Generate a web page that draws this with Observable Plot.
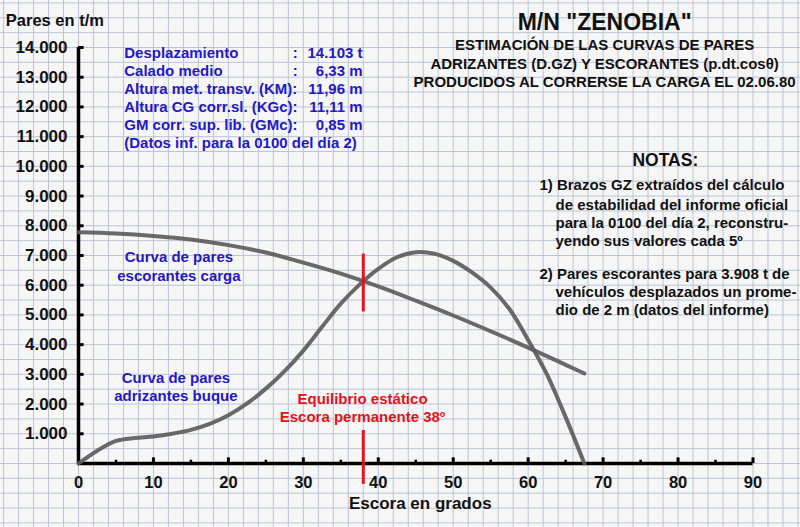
<!DOCTYPE html>
<html>
<head>
<meta charset="utf-8">
<script src="https://cdn.jsdelivr.net/npm/d3@7"></script>
<script src="https://cdn.jsdelivr.net/npm/@observablehq/plot@0.6"></script>
<style>
  html, body { margin: 0; padding: 0; background: #f6f6f6; }
  #chart { width: 800px; height: 527px; }
</style>
</head>
<body>
<div id="chart"></div>
<script>
// ---- Data ----
// Curva de pares adrizantes buque (D.GZ), t·m vs escora (grados)
const adrizAngles = [0, 2.5, 5, 7.5, 10, 12.5, 15, 17.5, 20, 22.5, 25, 27.5, 30, 32.5, 35, 37.5, 40, 42.5, 45, 47.5, 50, 52.5, 55, 57.5, 60, 62.5, 65, 67.5];
const adrizValues = [0, 430, 760, 860, 910, 1000, 1130, 1330, 1620, 2020, 2520, 3110, 3800, 4600, 5380, 6020, 6550, 6940, 7110, 7060, 6820, 6430, 5920, 5200, 4160, 3000, 1560, 0];

// Curva de pares escorantes carga (p.dt.cosθ)
const escorAngles = [0, 5, 10, 15, 20, 25, 30, 35, 40, 45, 50, 55, 60, 65, 67.5];
const escorValues = [7780, 7740, 7660, 7540, 7350, 7100, 6760, 6390, 5960, 5480, 4980, 4450, 3900, 3320, 3030];

// Equilibrio estático
const eqAngle = 38;
const eqUpper = [5100, 7050];
const eqLower = [-700, 1110];

// Axis ticks
const xMajorTicks = [0, 10, 20, 30, 40, 50, 60, 70, 80, 90];
const xMinorTicks = [5, 15, 25, 35, 45, 55, 65, 75, 85];
const yTicks = [1000, 2000, 3000, 4000, 5000, 6000, 7000, 8000, 9000, 10000, 11000, 12000, 13000, 14000];

// Grid paper (every 2º and every 500 t·m)
const gridX = d3.range(-10, 98, 2);
const gridY = d3.range(-2000, 16000, 500);

// Texts
const titleLines = ['M/N "ZENOBIA"', "ESTIMACIÓN DE LAS CURVAS DE PARES", "ADRIZANTES (D.GZ) Y ESCORANTES (p.dt.cosθ)", "PRODUCIDOS AL CORRERSE LA CARGA EL 02.06.80"];
const titleY = [14842, 14068, 13428, 12822];

const infoLabels = ["Desplazamiento", "Calado medio", "Altura met. transv. (KM):", "Altura CG corr.sl. (KGc):", "GM corr. sup. lib. (GMc):", "(Datos inf. para la 0100 del día 2)"];
const infoColons = [":", ":", "", "", "", ""];
const infoValues = ["14.103 t", "6,33 m", "11,96 m", "11,11 m", "0,85 m", ""];
const infoY = [13800, 13200, 12590, 11980, 11380, 10770];

const notesHead = "NOTAS:";
const notesLines = ["1) Brazos GZ extraídos del cálculo", "de estabilidad del informe oficial", "para la 0100 del día 2, reconstru-", "yendo sus valores cada 5º", "2) Pares escorantes para 3.908 t de", "vehículos desplazados un prome-", "dio de 2 m (datos del informe)"];
const notesIndent = [false, true, true, true, false, true, true];
const notesY = [9356, 8683, 8089, 7483, 6384, 5766, 5149];

const labelEscor = ["Curva de pares", "escorantes carga"];
const labelEscorY = [6933, 6293];
const labelAdriz = ["Curva de pares", "adrizantes buque"];
const labelAdrizY = [2861, 2255];
const labelEq = ["Equilibrio estático", "Escora permanente 38º"];
const labelEqY = [2154, 1548];

const yAxisTitle = "Pares en t/m";
const xAxisTitle = "Escora en grados";

// ---- Build ----
const adriz = adrizAngles.map((a, i) => ({a, v: adrizValues[i]}));
const escor = escorAngles.map((a, i) => ({a, v: escorValues[i]}));
const eqSegs = [{x: eqAngle, y1: eqUpper[0], y2: eqUpper[1]}, {x: eqAngle, y1: eqLower[0], y2: eqLower[1]}];
const fmt = d3.formatLocale({decimal: ",", thousands: ".", grouping: [3], currency: ["", ""]}).format(",d");

const BLUE = "#2418c4";
const RED = "#e3121c";
const GRID = "#bcc4d4";
const CURVE = "#5c5c5c";

const rows = (arr, ys) => arr.map((t, i) => ({t, y: ys[i]}));

const chart = Plot.plot({
  width: 800,
  height: 527,
  marginLeft: 78,
  marginRight: 47.5,
  marginTop: 47,
  marginBottom: 64,
  x: {domain: [0, 90]},
  y: {domain: [0, 14000]},
  style: {
    fontFamily: "'Liberation Sans', Arial, sans-serif",
    fontWeight: "bold",
    background: "#f6f6f6",
    color: "#111",
    overflow: "visible"
  },
  marks: [
    // grid paper
    Plot.ruleX(gridX, {x: d => d, y1: -2300, y2: 15700, stroke: GRID, strokeWidth: 1}),
    Plot.ruleY(gridY, {y: d => d, x1: -11, x2: 97, stroke: GRID, strokeWidth: 1}),

    // axes lines
    Plot.ruleX([0], {y1: 0, y2: 14000, stroke: "#000", strokeWidth: 3.5}),
    Plot.ruleY([0], {x1: 0, x2: 90, stroke: "#000", strokeWidth: 3.5}),
    // inward ticks
    Plot.ruleY(yTicks, {y: d => d, x1: 0, x2: 0.75, stroke: "#000", strokeWidth: 3}),
    Plot.ruleX(xMajorTicks, {x: d => d, y1: 0, y2: 190, stroke: "#000", strokeWidth: 3}),
    Plot.ruleX(xMinorTicks, {x: d => d, y1: 0, y2: 110, stroke: "#000", strokeWidth: 2.5}),

    // axis labels
    Plot.axisY(yTicks, {tickSize: 0, tickPadding: 11, tickFormat: fmt, fontSize: 17, fontWeight: "bold", label: null}),
    Plot.axisX(xMajorTicks, {tickSize: 0, tickPadding: 13, fontSize: 16.5, fontWeight: "bold", label: null}),
    Plot.text([yAxisTitle], {x: -9.7, y: 14909, text: d => d, textAnchor: "start", fontSize: 16.5, fill: "#111"}),
    Plot.text([xAxisTitle], {x: 45.6, y: -1346, text: d => d, fontSize: 17, fill: "#111"}),

    // curves
    Plot.line(escor, {x: "a", y: "v", curve: "catmull-rom", stroke: CURVE, strokeWidth: 4, strokeLinecap: "round", strokeOpacity: 0.92}),
    Plot.line(adriz, {x: "a", y: "v", curve: "catmull-rom", stroke: CURVE, strokeWidth: 4, strokeLinecap: "round", strokeOpacity: 0.92}),

    // equilibrium
    Plot.ruleX(eqSegs, {x: "x", y1: "y1", y2: "y2", stroke: RED, strokeWidth: 3}),
    Plot.text(rows(labelEq, labelEqY), {x: 37.9, y: "y", text: "t", fill: RED, fontSize: 15}),

    // curve labels
    Plot.text(rows(labelEscor, labelEscorY), {x: 13.4, y: "y", text: "t", fill: BLUE, fontSize: 15}),
    Plot.text(rows(labelAdriz, labelAdrizY), {x: 13.0, y: "y", text: "t", fill: BLUE, fontSize: 15}),

    // info block
    Plot.text(rows(infoLabels, infoY), {x: 6.1, y: "y", text: "t", textAnchor: "start", fill: BLUE, fontSize: 15}),
    Plot.text(rows(infoColons, infoY), {x: 28.6, y: "y", text: "t", textAnchor: "start", fill: BLUE, fontSize: 15}),
    Plot.text(rows(infoValues, infoY), {x: 37.9, y: "y", text: "t", textAnchor: "end", fill: BLUE, fontSize: 15}),

    // title
    Plot.text(rows(titleLines, titleY), {x: 70.2, y: "y", text: "t", fill: "#111", fontSize: (d, i) => i === 0 ? 23 : 15}),

    // notes
    Plot.text([notesHead], {x: 78.3, y: 10197, text: d => d, fill: "#111", fontSize: 17.5}),
    Plot.text(notesLines.map((t, i) => ({t, y: notesY[i], x: notesIndent[i] ? 63.65 : 61.5})), {x: "x", y: "y", text: "t", textAnchor: "start", fill: "#111", fontSize: 15})
  ]
});

document.getElementById("chart").append(chart);
</script>
</body>
</html>
